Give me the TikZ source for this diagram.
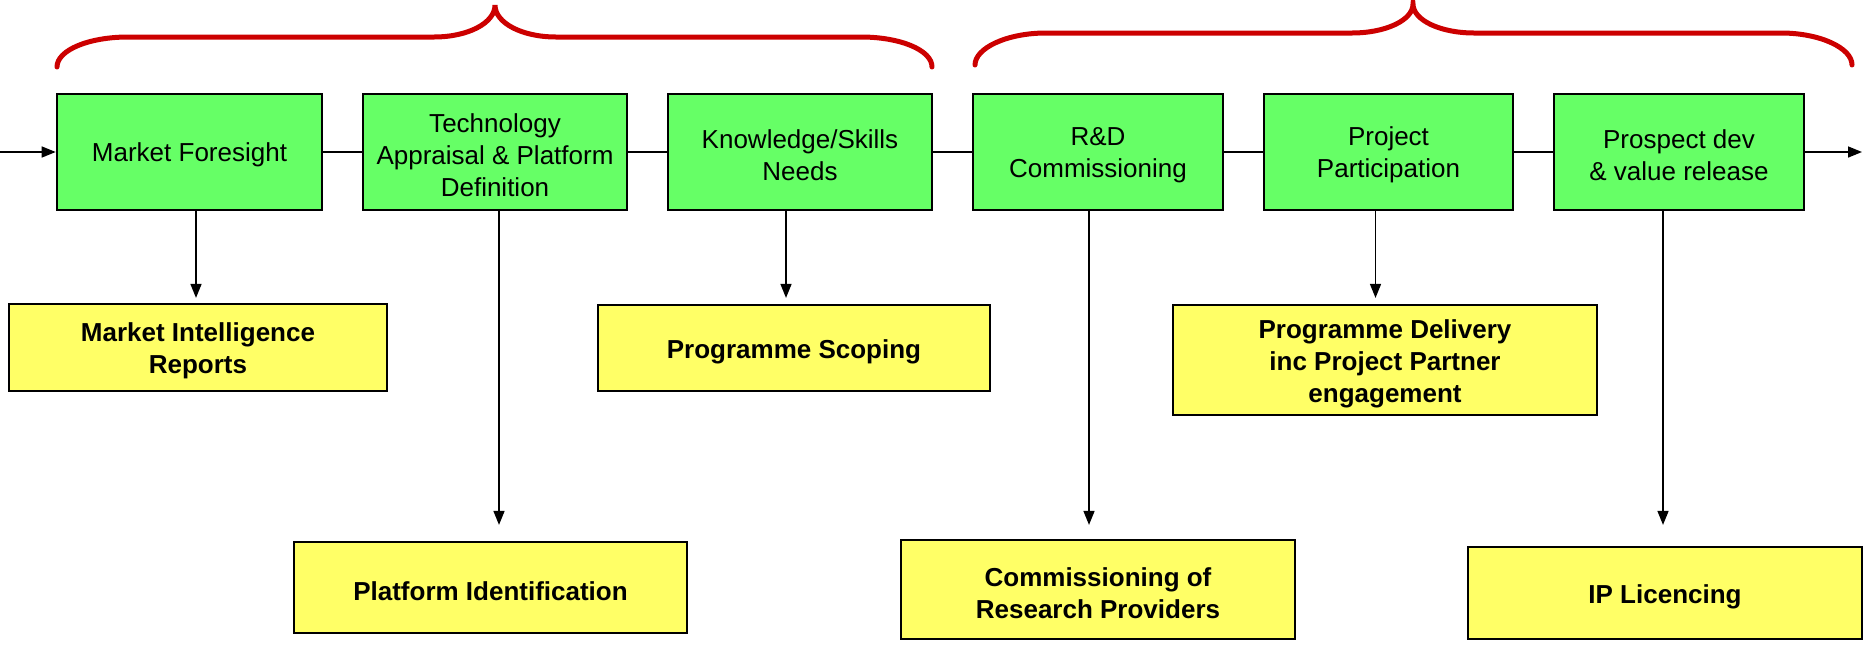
\documentclass[tikz,border=0pt]{standalone}
\usepackage{fontspec}
\setmainfont{Liberation Sans}
\usetikzlibrary{arrows.meta}

\definecolor{stagegreen}{HTML}{66FF66}
\definecolor{outyellow}{HTML}{FFFF66}
\definecolor{bracered}{HTML}{CC0000}

\tikzset{
  stage/.style={draw=black, line width=2.6pt, fill=stagegreen,
    minimum width=#1, minimum height=116pt, inner sep=0pt},
  stagetext/.style={align=center, inner sep=0pt, yshift=-3pt,
    font=\fontsize{26}{32}\selectfont},
  output/.style n args={2}{draw=black, line width=2.2pt, fill=outyellow,
    minimum width=#1, minimum height=#2, inner sep=0pt},
  outtext/.style={align=center, inner sep=0pt, yshift=-3.5pt,
    font=\fontsize{26}{32}\selectfont\bfseries},
  flow/.style={line width=1.5pt, draw=black},
  conn/.style={line width=1.5pt, draw=black, -{Triangle[length=14pt,width=11pt]}},
  brace/.style={line width=5pt, draw=bracered, line cap=round}
}

\begin{document}
\begin{tikzpicture}[x=1pt, y=-1pt]
\useasboundingbox (0,0) rectangle (1867,646);

% stage boxes along the main line
\node[stage=265pt, label={[stagetext]center:Market Foresight}] (g1) at (189.5,152) {};
\node[stage=264pt, label={[stagetext]center:Technology\\Appraisal \& Platform\\Definition}] (g2) at (495,152) {};
\node[stage=264pt, label={[stagetext]center:Knowledge/Skills\\Needs}] (g3) at (800,152) {};
\node[stage=250pt, label={[stagetext]center:R\&D\\Commissioning}] (g4) at (1098,152) {};
\node[stage=249pt, label={[stagetext]center:Project\\Participation}] (g5) at (1388.5,152) {};
\node[stage=250pt, label={[stagetext]center:Prospect dev\\\& value release}] (g6) at (1679,152) {};

% outputs
\node[output={378pt}{87pt}, label={[outtext]center:Market Intelligence\\Reports}] (y1) at (198,347.5) {};
\node[output={393pt}{91pt}, label={[outtext]center:Platform Identification}] (y2) at (490.5,587.5) {};
\node[output={392pt}{86pt}, label={[outtext]center:Programme Scoping}] (y3) at (794,348) {};
\node[output={394pt}{99pt}, label={[outtext]center:Commissioning of\\Research Providers}] (y4) at (1098,589.5) {};
\node[output={424pt}{110pt}, label={[outtext]center:Programme Delivery\\inc Project Partner\\engagement}] (y5) at (1385,360) {};
\node[output={394pt}{92pt}, label={[outtext]center:IP Licencing}] (y6) at (1665,593) {};

% main flow line
\coordinate (start) at (0,152);
\coordinate (finish) at (1862,152);
\draw[conn] (start) -- (g1.west);
\draw[flow] (g1.east) -- (g2.west);
\draw[flow] (g2.east) -- (g3.west);
\draw[flow] (g3.east) -- (g4.west);
\draw[flow] (g4.east) -- (g5.west);
\draw[flow] (g5.east) -- (g6.west);
\draw[conn] (g6.east) -- (finish);

% drops from stages to outputs
\draw[conn, shorten >=5pt] ([xshift=6.5pt]g1.south) -- ([xshift=6.5pt]g1.south |- y1.north);
\draw[conn, shorten >=16pt] ([xshift=4pt]g2.south) -- ([xshift=4pt]g2.south |- y2.north);
\draw[conn, shorten >=6pt] ([xshift=-14pt]g3.south) -- ([xshift=-14pt]g3.south |- y3.north);
\draw[conn, shorten >=14pt] ([xshift=-9pt]g4.south) -- ([xshift=-9pt]g4.south |- y4.north);
\draw[conn, shorten >=6pt] ([xshift=-13pt]g5.south) -- ([xshift=-13pt]g5.south |- y5.north);
\draw[conn, shorten >=21pt] ([xshift=-16pt]g6.south) -- ([xshift=-16pt]g6.south |- y6.north);

% grouping braces
\draw[brace] (57,67) .. controls (57,50) and (89,37) .. (128,37)
  -- (434,37) .. controls (468,37) and (495,23) .. (495,5)
  .. controls (495,23) and (522,37) .. (556,37)
  -- (861,37) .. controls (900,37) and (932,50) .. (932,67);
\draw[brace] (975,65) .. controls (975,48) and (1007,33) .. (1046,33)
  -- (1352,33) .. controls (1386,33) and (1413,20) .. (1413,4)
  .. controls (1413,20) and (1440,33) .. (1474,33)
  -- (1781,33) .. controls (1820,33) and (1852,48) .. (1852,65);
\end{tikzpicture}
\end{document}
